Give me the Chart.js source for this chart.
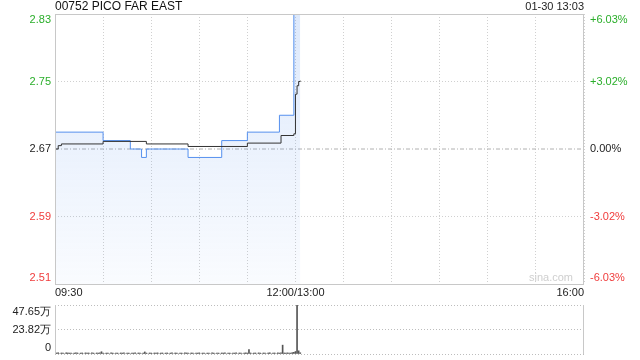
<!DOCTYPE html>
<html>
<head>
<meta charset="utf-8">
<script src="https://cdn.jsdelivr.net/npm/chart.js@4.4.1/dist/chart.umd.min.js"></script>
<style>
  html, body { margin: 0; padding: 0; background: #fff; }
  #wrap { position: relative; width: 640px; height: 360px; overflow: hidden; }
  #priceCanvas { position: absolute; left: 0; top: 0; }
  #volCanvas { position: absolute; left: 0; top: 295px; }
</style>
</head>
<body>
<div id="wrap">
  <canvas id="priceCanvas" width="640" height="300"></canvas>
  <canvas id="volCanvas" width="640" height="65"></canvas>
</div>
<script>
// intraday minute chart, 09:30-12:00 + 13:00-16:00 mapped to minutes 0..330

const TITLE = '00752 PICO FAR EAST';
const STAMP = '01-30 13:03';

const prevClose = 2.67;

// price (step changes), minutes since 09:30
const priceTimes = [0, 30, 47, 54, 57, 83, 104, 120, 140, 149, 153];
const priceValues = [2.69, 2.68, 2.67, 2.66, 2.67, 2.66, 2.68, 2.69, 2.71, 2.83, 2.83];

// average price
const avgTimes = [0, 2, 4, 30, 57, 83, 120, 141, 149, 150, 151, 152, 153];
const avgValues = [2.670, 2.674, 2.676, 2.679, 2.676, 2.673, 2.677, 2.686, 2.688, 2.735, 2.745, 2.750, 2.751];

// volume per minute (万), minute 0..153
const volumes = [
  1.6, 1.0, 1.2, 0, 1.0, 0.9, 0, 1.2, 1.0, 0.9,
  1.0, 0, 0.9, 1.2, 1.0, 0, 0.9, 1.0, 0, 1.1,
  0.9, 1.0, 0, 1.2, 0.9, 0, 1.0, 0.9, 1.1, 2.2,
  1.0, 0, 0.9, 1.0, 0, 1.1, 0.9, 0, 1.0, 0.9,
  0, 1.0, 0.9, 1.2, 0, 1.0, 0.9, 0, 1.0, 0.9,
  1.1, 0, 1.0, 0.9, 0, 1.0, 2.0, 0.9, 0, 1.0,
  0.9, 0, 1.0, 0.9, 1.1, 0, 0.9, 1.0, 0, 0.9,
  1.0, 0, 0.9, 1.2, 0, 1.0, 0.9, 0, 1.0, 0.9,
  0, 1.1, 1.0, 0.9, 0, 1.0, 0.9, 0, 1.0, 0.9,
  1.1, 0, 0.9, 1.0, 0, 0.9, 1.0, 0, 1.2, 0.9,
  0, 1.0, 0.9, 0, 1.0, 0.9, 1.1, 0, 1.0, 0.9,
  0, 1.0, 0.9, 1.2, 0, 1.0, 0.9, 0, 1.0, 1.1,
  0.9, 4.2, 1.0, 0, 0.9, 1.0, 0, 1.1, 0.9, 0,
  1.0, 0.9, 0, 1.0, 1.2, 0, 0.9, 1.0, 0, 1.1,
  0.9, 1.2, 8.6, 1.0, 0.9, 1.1, 1.0, 0.9, 1.3, 1.6,
  2.4, 47.65, 3.1, 1.2,
];

const priceTicks = [2.51, 2.59, 2.67, 2.75, 2.83];
const priceTickColors = ['#f03c3c', '#f03c3c', '#222', '#2aae2a', '#2aae2a'];
const pctLabels = ['-6.03%', '-3.02%', '0.00%', '+3.02%', '+6.03%'];
const volTicks = [0, 23.82, 47.65];
const volLabels = ['0', '23.82万', '47.65万'];
const timeTicks = [0, 150, 330];
const timeLabels = ['09:30', '12:00/13:00', '16:00'];

const FONT = "Arial, 'Liberation Sans', sans-serif";
const GRID = '#d0d0d0';
const FRAME = '#c8c8c8';

function xScaleOpts(height) {
  return {
    type: 'linear',
    min: 0,
    max: 330,
    offset: false,
    ticks: { display: false, stepSize: 30 },
    border: { display: false, dash: [1, 2] },
    grid: { color: GRID, drawTicks: false, offset: false },
    afterFit: (s) => { s.height = height; },
  };
}

function fillGradient(ctx) {
  const a = ctx.chart.chartArea;
  if (!a) return 'rgba(85,144,238,0.12)';
  const g = ctx.chart.ctx.createLinearGradient(0, a.top, 0, a.bottom);
  g.addColorStop(0, 'rgba(85,144,238,0.2)');
  g.addColorStop(1, 'rgba(85,144,238,0.03)');
  return g;
}

const textPlugin = {
  id: 'priceText',
  afterDraw(chart) {
    const { ctx, chartArea: a, scales: { x, y } } = chart;
    ctx.save();
    // frame
    ctx.strokeStyle = FRAME;
    ctx.lineWidth = 1;
    ctx.setLineDash([]);
    ctx.strokeRect(Math.round(a.left) + 0.5, Math.round(a.top) + 0.5,
      Math.round(a.right - a.left) - 1, Math.round(a.bottom - a.top));

    ctx.textBaseline = 'middle';
    ctx.font = '12px ' + FONT;
    ctx.fillStyle = '#111';
    ctx.textAlign = 'left';
    ctx.fillText(TITLE, a.left, 7);
    ctx.font = '11px ' + FONT;
    ctx.textAlign = 'right';
    ctx.fillStyle = '#222';
    ctx.fillText(STAMP, a.right, 7);

    priceTicks.forEach((v, i) => {
      const py = Math.min(Math.max(y.getPixelForValue(v), a.top + 6), a.bottom - 6);
      ctx.fillStyle = priceTickColors[i];
      ctx.textAlign = 'right';
      ctx.fillText(v.toFixed(2), a.left - 4, py);
      ctx.textAlign = 'left';
      ctx.fillText(pctLabels[i], a.right + 6, py);
    });

    ctx.fillStyle = '#222';
    timeTicks.forEach((t, i) => {
      ctx.textAlign = i === 0 ? 'left' : (i === timeTicks.length - 1 ? 'right' : 'center');
      ctx.fillText(timeLabels[i], x.getPixelForValue(t), a.bottom + 9);
    });

    ctx.fillStyle = '#cfcfcf';
    ctx.textAlign = 'right';
    ctx.fillText('sina.com', a.right - 11, a.bottom - 6);
    ctx.restore();
  },
};

new Chart(document.getElementById('priceCanvas'), {
  type: 'line',
  data: {
    datasets: [
      {
        label: 'avg',
        data: avgTimes.map((t, i) => ({ x: t, y: avgValues[i] })),
        borderColor: '#333',
        borderWidth: 1,
        pointRadius: 0,
        stepped: true,
        fill: false,
        order: 0,
      },
      {
        label: 'price',
        data: priceTimes.map((t, i) => ({ x: t, y: priceValues[i] })),
        borderColor: '#5590ee',
        backgroundColor: fillGradient,
        borderWidth: 1,
        pointRadius: 0,
        stepped: true,
        fill: 'start',
        order: 1,
      },
      {
        label: 'prev',
        data: [{ x: 0, y: prevClose }, { x: 330, y: prevClose }],
        borderColor: '#b0b0b0',
        borderWidth: 1,
        borderDash: [4, 2, 1, 2],
        pointRadius: 0,
        fill: false,
        order: 2,
      },
    ],
  },
  options: {
    responsive: false,
    animation: false,
    layout: { padding: { top: 14, right: 56, left: 0, bottom: 0 } },
    plugins: { legend: { display: false }, tooltip: { enabled: false } },
    scales: {
      x: xScaleOpts(16),
      y: {
        min: 2.51,
        max: 2.83,
        afterBuildTicks: (s) => { s.ticks = priceTicks.map((v) => ({ value: v })); },
        ticks: { display: false },
        border: { display: false, dash: [1, 2] },
        grid: {
          drawTicks: false,
          color: (c) => (c.tick && Math.abs(c.tick.value - prevClose) < 1e-6 ? 'rgba(0,0,0,0)' : GRID),
        },
        afterFit: (s) => { s.width = 55; },
      },
    },
  },
  plugins: [textPlugin],
});

const volPlugin = {
  id: 'volText',
  afterDraw(chart) {
    const { ctx, chartArea: a, scales: { y } } = chart;
    ctx.save();
    ctx.strokeStyle = FRAME;
    ctx.lineWidth = 1;
    ctx.beginPath();
    ctx.moveTo(Math.round(a.left) + 0.5, a.top);
    ctx.lineTo(Math.round(a.left) + 0.5, a.bottom);
    ctx.moveTo(Math.round(a.right) - 0.5, a.top);
    ctx.lineTo(Math.round(a.right) - 0.5, a.bottom);
    ctx.stroke();

    ctx.font = '11px ' + FONT;
    ctx.textBaseline = 'middle';
    ctx.textAlign = 'right';
    ctx.fillStyle = '#222';
    volTicks.forEach((v, i) => {
      const py = Math.min(Math.max(y.getPixelForValue(v), a.top + 7), a.bottom - 6);
      ctx.fillText(volLabels[i], a.left - 4, py);
    });
    ctx.restore();
  },
};

new Chart(document.getElementById('volCanvas'), {
  type: 'bar',
  data: {
    datasets: [{
      data: volumes.map((v, i) => ({ x: i, y: v })),
      backgroundColor: '#555',
      barThickness: 1,
      borderWidth: 0,
    }],
  },
  options: {
    responsive: false,
    animation: false,
    layout: { padding: { top: 10, right: 56, left: 0, bottom: 0 } },
    plugins: { legend: { display: false }, tooltip: { enabled: false } },
    scales: {
      x: { ...xScaleOpts(6), grid: { display: false } },
      y: {
        min: 0,
        max: 47.65,
        afterBuildTicks: (s) => { s.ticks = volTicks.map((v) => ({ value: v })); },
        ticks: { display: false },
        border: { display: false, dash: [1, 2] },
        grid: { drawTicks: false, color: '#bdbdbd' },
        afterFit: (s) => { s.width = 55; },
      },
    },
  },
  plugins: [volPlugin],
});
</script>
</body>
</html>
